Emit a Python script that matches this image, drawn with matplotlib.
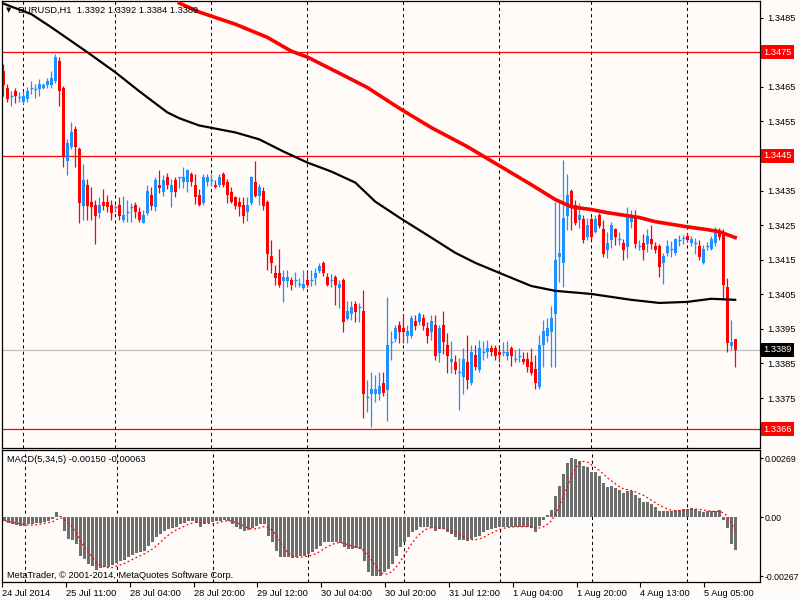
import numpy as np
import pandas as pd
import matplotlib
matplotlib.use("Agg")
import matplotlib.pyplot as plt

# EURUSD H1 candles, 24 Jul 2014 19:00 .. 5 Aug 2014 12:00
opens = [
    1.34695, 1.34646, 1.34620, 1.34637, 1.34617, 1.34605, 1.34614, 1.34643, 1.34640, 1.34643,
    1.34646, 1.34654, 1.34654, 1.34666, 1.34724, 1.34646, 1.34434, 1.34475, 1.34527, 1.34469,
    1.34306, 1.34367, 1.34318, 1.34309, 1.34286, 1.34318, 1.34318, 1.34309, 1.34298, 1.34309,
    1.34266, 1.34286, 1.34298, 1.34309, 1.34289, 1.34257, 1.34286, 1.34338, 1.34301, 1.34367,
    1.34347, 1.34388, 1.34347, 1.34379, 1.34385, 1.34376, 1.34376, 1.34399, 1.34367, 1.34338,
    1.34315, 1.34376, 1.34376, 1.34367, 1.34367, 1.34399, 1.34376, 1.34347, 1.34330, 1.34318,
    1.34309, 1.34289, 1.34315, 1.34376, 1.34335, 1.34350, 1.34318, 1.34161, 1.34112, 1.34112,
    1.34089, 1.34089, 1.34092, 1.34089, 1.34077, 1.34069, 1.34092, 1.34089, 1.34098, 1.34118,
    1.34141, 1.34100, 1.34089, 1.34100, 1.34069, 1.34092, 1.33979, 1.33993, 1.34022, 1.34010,
    1.34002, 1.33750, 1.33761, 1.33761, 1.33761, 1.33793, 1.33773, 1.33909, 1.33921, 1.33961,
    1.33953, 1.33929, 1.33929, 1.33973, 1.33970, 1.33982, 1.33953, 1.33941, 1.33961, 1.33880,
    1.33961, 1.33903, 1.33854, 1.33854, 1.33822, 1.33810, 1.33854, 1.33793, 1.33874, 1.33831,
    1.33880, 1.33883, 1.33895, 1.33895, 1.33883, 1.33880, 1.33871, 1.33895, 1.33860, 1.33868,
    1.33863, 1.33863, 1.33854, 1.33834, 1.33781, 1.33903, 1.33929, 1.33941, 1.33993, 1.34158,
    1.34141, 1.34277, 1.34350, 1.34309, 1.34266, 1.34269, 1.34216, 1.34269, 1.34231, 1.34280,
    1.34240, 1.34179, 1.34208, 1.34240, 1.34208, 1.34199, 1.34187, 1.34260, 1.34274, 1.34187,
    1.34199, 1.34196, 1.34211, 1.34190, 1.34190, 1.34141, 1.34170, 1.34179, 1.34170, 1.34205,
    1.34211, 1.34219, 1.34199, 1.34196, 1.34190, 1.34141, 1.34187, 1.34182, 1.34199, 1.34231,
    1.34231, 1.34071, 1.33900, 1.33920,
]
closes = [
    1.34654, 1.34614, 1.34622, 1.34622, 1.34620, 1.34622, 1.34637, 1.34646, 1.34643, 1.34657,
    1.34654, 1.34666, 1.34675, 1.34736, 1.34637, 1.34446, 1.34486, 1.34518, 1.34475, 1.34315,
    1.34379, 1.34306, 1.34301, 1.34277, 1.34309, 1.34306, 1.34301, 1.34286, 1.34301, 1.34277,
    1.34280, 1.34289, 1.34301, 1.34289, 1.34266, 1.34280, 1.34350, 1.34306, 1.34379, 1.34356,
    1.34379, 1.34367, 1.34367, 1.34347, 1.34388, 1.34388, 1.34408, 1.34376, 1.34330, 1.34309,
    1.34388, 1.34388, 1.34379, 1.34359, 1.34388, 1.34367, 1.34338, 1.34318, 1.34306, 1.34301,
    1.34277, 1.34309, 1.34388, 1.34335, 1.34359, 1.34306, 1.34167, 1.34141, 1.34098, 1.34077,
    1.34100, 1.34100, 1.34077, 1.34092, 1.34080, 1.34080, 1.34077, 1.34092, 1.34112, 1.34132,
    1.34112, 1.34077, 1.34092, 1.34077, 1.34080, 1.33970, 1.34002, 1.34013, 1.33999, 1.34013,
    1.33761, 1.33752, 1.33776, 1.33776, 1.33784, 1.33764, 1.33903, 1.33912, 1.33953, 1.33941,
    1.33941, 1.33944, 1.33982, 1.33958, 1.33993, 1.33958, 1.33929, 1.33973, 1.33871, 1.33953,
    1.33912, 1.33871, 1.33863, 1.33831, 1.33825, 1.33863, 1.33802, 1.33883, 1.33839, 1.33895,
    1.33883, 1.33895, 1.33883, 1.33871, 1.33874, 1.33883, 1.33883, 1.33871, 1.33863, 1.33871,
    1.33854, 1.33839, 1.33822, 1.33793, 1.33903, 1.33944, 1.33953, 1.33982, 1.34150, 1.34170,
    1.34272, 1.34338, 1.34301, 1.34257, 1.34280, 1.34208, 1.34251, 1.34216, 1.34269, 1.34248,
    1.34167, 1.34199, 1.34251, 1.34216, 1.34211, 1.34179, 1.34280, 1.34280, 1.34196, 1.34190,
    1.34179, 1.34219, 1.34196, 1.34179, 1.34129, 1.34161, 1.34190, 1.34182, 1.34211, 1.34208,
    1.34214, 1.34208, 1.34211, 1.34199, 1.34158, 1.34182, 1.34190, 1.34211, 1.34240, 1.34216,
    1.34077, 1.33909, 1.33912, 1.33890,
]
highs = [
    1.34715, 1.34657, 1.34637, 1.34646, 1.34634, 1.34637, 1.34648, 1.34666, 1.34657, 1.34672,
    1.34660, 1.34675, 1.34695, 1.34744, 1.34736, 1.34651, 1.34498, 1.34547, 1.34538, 1.34475,
    1.34428, 1.34382, 1.34359, 1.34324, 1.34330, 1.34353, 1.34338, 1.34324, 1.34309, 1.34330,
    1.34335, 1.34324, 1.34315, 1.34318, 1.34301, 1.34295, 1.34367, 1.34359, 1.34388, 1.34408,
    1.34396, 1.34402, 1.34382, 1.34390, 1.34390, 1.34419, 1.34413, 1.34405, 1.34399, 1.34353,
    1.34399, 1.34399, 1.34399, 1.34379, 1.34399, 1.34405, 1.34382, 1.34359, 1.34335, 1.34330,
    1.34330, 1.34330, 1.34393, 1.34434, 1.34370, 1.34359, 1.34324, 1.34208, 1.34135, 1.34182,
    1.34121, 1.34121, 1.34100, 1.34115, 1.34098, 1.34121, 1.34112, 1.34121, 1.34127, 1.34141,
    1.34147, 1.34112, 1.34109, 1.34106, 1.34092, 1.34098, 1.34031, 1.34031, 1.34031, 1.34025,
    1.34063, 1.33802, 1.33825, 1.33816, 1.33825, 1.33825, 1.34042, 1.33944, 1.33961, 1.33973,
    1.33993, 1.33961, 1.33990, 1.33990, 1.33999, 1.33993, 1.33970, 1.33990, 1.33990, 1.33961,
    1.34002, 1.33938, 1.33915, 1.33874, 1.33866, 1.33895, 1.33932, 1.33903, 1.33903, 1.33918,
    1.33915, 1.33918, 1.33903, 1.33903, 1.33897, 1.33912, 1.33915, 1.33900, 1.33889, 1.33895,
    1.33883, 1.33883, 1.33895, 1.33874, 1.33932, 1.33976, 1.33982, 1.34016, 1.34318, 1.34321,
    1.34437, 1.34399, 1.34353, 1.34324, 1.34315, 1.34280, 1.34272, 1.34274, 1.34280, 1.34286,
    1.34266, 1.34231, 1.34260, 1.34243, 1.34231, 1.34211, 1.34301, 1.34295, 1.34295, 1.34208,
    1.34225, 1.34240, 1.34251, 1.34202, 1.34196, 1.34170, 1.34208, 1.34205, 1.34214, 1.34222,
    1.34222, 1.34228, 1.34219, 1.34214, 1.34208, 1.34193, 1.34202, 1.34219, 1.34245, 1.34243,
    1.34240, 1.34098, 1.33976, 1.33920,
]
lows = [
    1.34622, 1.34605, 1.34593, 1.34602, 1.34605, 1.34599, 1.34605, 1.34628, 1.34617, 1.34622,
    1.34643, 1.34646, 1.34646, 1.34660, 1.34593, 1.34417, 1.34396, 1.34469, 1.34417, 1.34257,
    1.34266, 1.34266, 1.34266, 1.34196, 1.34272, 1.34295, 1.34289, 1.34266, 1.34289, 1.34266,
    1.34260, 1.34260, 1.34260, 1.34272, 1.34260, 1.34257, 1.34280, 1.34295, 1.34292, 1.34344,
    1.34335, 1.34353, 1.34301, 1.34330, 1.34356, 1.34356, 1.34347, 1.34364, 1.34312, 1.34306,
    1.34309, 1.34364, 1.34364, 1.34356, 1.34359, 1.34359, 1.34315, 1.34315, 1.34298, 1.34277,
    1.34257, 1.34263, 1.34309, 1.34330, 1.34309, 1.34295, 1.34121, 1.34112, 1.34077, 1.34071,
    1.34028, 1.34071, 1.34063, 1.34071, 1.34071, 1.34063, 1.34071, 1.34074, 1.34077, 1.34112,
    1.34103, 1.34074, 1.34071, 1.34019, 1.34010, 1.33941, 1.33976, 1.33976, 1.33970, 1.33970,
    1.33691, 1.33709, 1.33665, 1.33738, 1.33744, 1.33755, 1.33683, 1.33860, 1.33912, 1.33909,
    1.33909, 1.33909, 1.33924, 1.33947, 1.33961, 1.33947, 1.33909, 1.33918, 1.33860, 1.33854,
    1.33877, 1.33822, 1.33822, 1.33819, 1.33715, 1.33761, 1.33776, 1.33787, 1.33831, 1.33825,
    1.33860, 1.33866, 1.33871, 1.33860, 1.33854, 1.33871, 1.33860, 1.33842, 1.33854, 1.33854,
    1.33848, 1.33825, 1.33816, 1.33776, 1.33776, 1.33839, 1.33912, 1.33839, 1.33839, 1.34086,
    1.34071, 1.34237, 1.34237, 1.34251, 1.34243, 1.34199, 1.34208, 1.34208, 1.34228, 1.34243,
    1.34158, 1.34156, 1.34185, 1.34193, 1.34193, 1.34150, 1.34156, 1.34243, 1.34185, 1.34179,
    1.34150, 1.34173, 1.34182, 1.34170, 1.34100, 1.34080, 1.34161, 1.34158, 1.34164, 1.34190,
    1.34196, 1.34202, 1.34190, 1.34167, 1.34150, 1.34138, 1.34179, 1.34179, 1.34190, 1.34208,
    1.34034, 1.33883, 1.33889, 1.33840,
]

# MACD(5,34,5) main line per bar
macd = [
    -0.00015, -0.00023, -0.00030, -0.00035, -0.00041, -0.00038, -0.00030, -0.00030, -0.00027, -0.00024,
    -0.00020, -0.00015, -0.00009, 0.00023, 0.00008, -0.00063, -0.00098, -0.00101, -0.00121, -0.00174,
    -0.00189, -0.00211, -0.00219, -0.00239, -0.00231, -0.00227, -0.00223, -0.00216, -0.00208, -0.00199,
    -0.00193, -0.00181, -0.00169, -0.00163, -0.00159, -0.00151, -0.00128, -0.00113, -0.00091, -0.00076,
    -0.00063, -0.00053, -0.00048, -0.00042, -0.00030, -0.00023, -0.00015, -0.00015, -0.00023, -0.00045,
    -0.00030, -0.00023, -0.00020, -0.00015, -0.00015, -0.00012, -0.00015, -0.00030, -0.00045, -0.00053,
    -0.00060, -0.00057, -0.00048, -0.00038, -0.00030, -0.00030, -0.00083, -0.00113, -0.00151, -0.00181,
    -0.00181, -0.00181, -0.00184, -0.00181, -0.00174, -0.00174, -0.00166, -0.00159, -0.00143, -0.00128,
    -0.00113, -0.00113, -0.00113, -0.00113, -0.00118, -0.00133, -0.00143, -0.00143, -0.00139, -0.00143,
    -0.00196, -0.00249, -0.00264, -0.00267, -0.00264, -0.00249, -0.00234, -0.00211, -0.00174, -0.00136,
    -0.00113, -0.00091, -0.00068, -0.00057, -0.00042, -0.00042, -0.00042, -0.00048, -0.00060, -0.00053,
    -0.00053, -0.00068, -0.00076, -0.00091, -0.00103, -0.00103, -0.00109, -0.00098, -0.00091, -0.00083,
    -0.00068, -0.00057, -0.00053, -0.00048, -0.00045, -0.00042, -0.00042, -0.00042, -0.00042, -0.00042,
    -0.00042, -0.00042, -0.00048, -0.00068, -0.00038, -0.00012, 0.00012, 0.00035, 0.00098, 0.00143,
    0.00196, 0.00249, 0.00269, 0.00264, 0.00257, 0.00234, 0.00227, 0.00208, 0.00204, 0.00189,
    0.00154, 0.00139, 0.00143, 0.00133, 0.00124, 0.00109, 0.00121, 0.00121, 0.00103, 0.00088,
    0.00068, 0.00068, 0.00063, 0.00048, 0.00027, 0.00027, 0.00030, 0.00030, 0.00033, 0.00033,
    0.00038, 0.00038, 0.00041, 0.00038, 0.00027, 0.00023, 0.00027, 0.00027, 0.00030, 0.00033,
    -0.00011, -0.00048, -0.00120, -0.00150,
]

# moving averages (bar index, price)
ma_red_bar = [44, 49, 58, 66, 72, 76, 82, 91, 99, 107, 116, 124, 132, 138, 142, 147, 151,
              159, 163, 171, 176, 179, 183]
ma_red = [1.34892, 1.34866, 1.34831, 1.34793, 1.34753, 1.34736, 1.34701, 1.34648, 1.34588,
          1.34532, 1.34477, 1.34422, 1.34367, 1.34324, 1.34303, 1.34295, 1.34286, 1.34272,
          1.34260, 1.34245, 1.34237, 1.34231, 1.34214]
ma_black_bar = [-1, 7, 12, 21, 28, 34, 41, 44, 49, 58, 64, 70, 76, 82, 88, 93, 99, 107, 113,
                118, 124, 132, 138, 147, 157, 164, 171, 177, 183]
ma_black = [1.34895, 1.34860, 1.34822, 1.34750, 1.34692, 1.34637, 1.34576, 1.34559, 1.34538,
            1.34518, 1.34498, 1.34463, 1.34431, 1.34405, 1.34373, 1.34318, 1.34272, 1.34214,
            1.34170, 1.34141, 1.34112, 1.34074, 1.34060, 1.34051, 1.34034, 1.34025, 1.34028,
            1.34037, 1.34034]

levels = [1.3475, 1.3445, 1.3366]
last_price = 1.3389
price_ticks = [1.3485, 1.3465, 1.3455, 1.3435, 1.3425, 1.3415, 1.3405, 1.3395, 1.3385, 1.3375]
macd_ticks = [0.00269, 0.0, -0.00267]
macd_labels = ["0.00269", "0.00", "-0.00267"]

BG = "#fffbf9"
BULL = "#1e90ff"
BEAR = "#ff0000"
FONT = ["Liberation Sans", "DejaVu Sans"]
FS = 6.7

plt.rcParams["font.family"] = FONT

# hourly bars without the weekend (and without Friday 23:00)
times = pd.date_range("2014-07-24 19:00", "2014-08-05 12:00", freq="h")
times = times[(times.dayofweek < 5) & ~((times.dayofweek == 4) & (times.hour == 23))]
x = np.arange(len(times))

o = np.array(opens)
c = np.array(closes)
h = np.array(highs)
l = np.array(lows)

fig = plt.figure(figsize=(8, 6), dpi=100, facecolor=BG)
W, H = 800.0, 600.0
ax = fig.add_axes([2 / W, 1 - 447.5 / H, 758 / W, 446.5 / H], facecolor=BG)
ax2 = fig.add_axes([2 / W, 1 - 582 / H, 758 / W, 132 / H], facecolor=BG)

day_starts = x[times.hour == 0]
for a in (ax, ax2):
    for d in day_starts:
        a.axvline(d, color="black", lw=0.75, ls=(0, (3, 3)), zorder=0.5)
    a.set_xlim(-0.33, 189.2)
    for s in a.spines.values():
        s.set_linewidth(0.9)
        s.set_color("black")

# horizontal levels
for lv in levels:
    ax.axhline(lv, color="red", lw=0.9, zorder=1)
ax.axhline(last_price, color="#c0c0c0", lw=0.9, zorder=1)

# candles
up = c >= o
cols = np.where(up, BULL, BEAR)
ax.vlines(x, l, h, colors=cols, lw=0.9, zorder=2)
body = np.abs(c - o)
doji = body < 0.00004
ax.bar(x[~doji], body[~doji], width=0.75, bottom=np.minimum(o, c)[~doji],
       color=cols[~doji], linewidth=0, zorder=2.1)
ax.hlines(c[doji], x[doji] - 0.4, x[doji] + 0.4, colors=cols[doji], lw=1.0, zorder=2.1)

# moving averages
ax.plot(ma_black_bar, ma_black, color="black", lw=1.6, zorder=3)
ax.plot(ma_red_bar, ma_red, color="red", lw=2.6, zorder=3)

ax.set_ylim(1.33607, 1.34898)
ax.yaxis.tick_right()
ax.set_yticks(price_ticks)
ax.set_yticklabels([f"{p:.4f}" for p in price_ticks])
ax.tick_params(axis="y", direction="out", length=2.5, width=0.8, pad=3, labelsize=FS)
ax.tick_params(axis="x", bottom=False, labelbottom=False)

# price tags on the right
tr = ax.get_yaxis_transform()
for lv in levels:
    ax.text(1.0046, lv, f"{lv:.4f}", transform=tr, ha="left", va="center", fontsize=FS,
            color="white", clip_on=False, zorder=5,
            bbox=dict(boxstyle="square,pad=0.28", fc="red", ec="none"))
ax.text(1.0046, last_price, f"{last_price:.4f}", transform=tr, ha="left", va="center",
        fontsize=FS, color="white", clip_on=False, zorder=5,
        bbox=dict(boxstyle="square,pad=0.28", fc="black", ec="none"))

# MACD panel
signal = pd.Series(macd).rolling(5, min_periods=1).mean()
ax2.bar(x, macd, width=0.75, color="#6e6e6e", linewidth=0, zorder=2)
ax2.plot(x, signal, color="red", lw=0.9, ls=(0, (1.5, 2.0)), zorder=3)
ax2.set_ylim(-0.00293, 0.00306)
ax2.yaxis.tick_right()
ax2.set_yticks(macd_ticks)
ax2.set_yticklabels(macd_labels)
ax2.tick_params(axis="y", direction="out", length=2.0, width=0.8, pad=1.2, labelsize=6.3)

tick_bars = x[::16]
labels = []
for i in tick_bars:
    t = times[i]
    labels.append(f"{t.day} {t:%b} {t.year}" if i == 0 else f"{t.day} {t:%b %H:%M}")
ax2.set_xticks(tick_bars - 0.75)
ax2.set_xticklabels(labels)
ax2.tick_params(axis="x", direction="out", length=3.5, width=0.8, pad=1.5, labelsize=FS)
for lbl in ax2.get_xticklabels():
    lbl.set_ha("left")

# captions
fig.text(6 / W, 1 - 10.5 / H, "\u25bc", fontsize=5, va="center", ha="left",
         family=["DejaVu Sans"])
fig.text(18 / W, 1 - 10.5 / H, "EURUSD,H1  1.3392 1.3392 1.3384 1.3389", fontsize=FS,
         va="center", ha="left")
fig.text(7 / W, 1 - 459.5 / H, "MACD(5,34,5) -0.00150 -0.00063", fontsize=FS,
         va="center", ha="left")
fig.text(7 / W, 1 - 575 / H, "MetaTrader, \u00a9 2001-2014, MetaQuotes Software Corp.",
         fontsize=FS, va="center", ha="left")

fig.savefig("out.png", dpi=100, facecolor=BG)
